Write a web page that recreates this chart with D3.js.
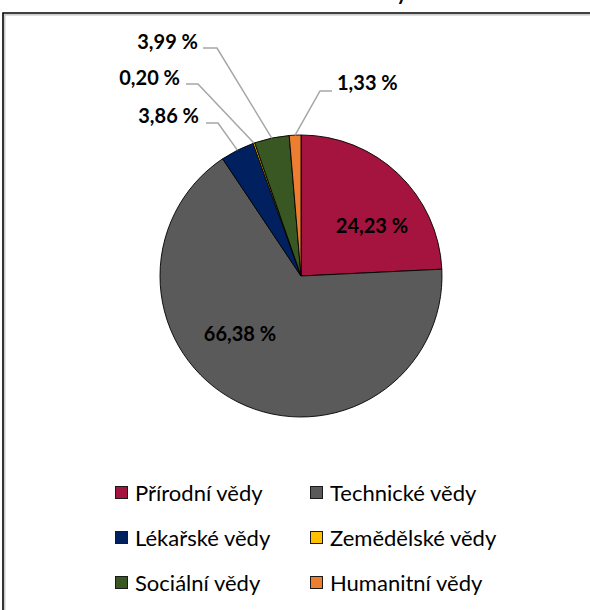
<!DOCTYPE html>
<html>
<head>
<meta charset="utf-8">
<script src="https://cdn.jsdelivr.net/npm/d3@7"></script>
<style>
  html, body { margin: 0; padding: 0; background: #fff; overflow: hidden; }
  svg { display: block; overflow: hidden; }
</style>
</head>
<body>
<svg id="chart" width="590" height="610"></svg>
<script>
// ---- data ----
const categories = ["Přírodní vědy", "Technické vědy", "Lékařské vědy", "Zemědělské vědy", "Sociální vědy", "Humanitní vědy"];
const values = [24.23, 66.38, 3.86, 0.20, 3.99, 1.33];
const valueLabels = ["24,23 %", "66,38 %", "3,86 %", "0,20 %", "3,99 %", "1,33 %"];
const colors = ["#A5143F", "#5A5A5A", "#002060", "#FFC000", "#385723", "#ED7D31"];
const titleText = "vědy";

// ---- layout (not data) ----
const W = 590, H = 610;
const cx = 301, cy = 276, R = 141;
const fontFamily = "Lato, 'Open Sans', 'DejaVu Sans', sans-serif";
// label placement relative to pie centre
const labelLayout = [
  { inside: true, dx: 71, dy: -43 },
  { inside: true, dx: -61, dy: 65 },
  { inside: false, dx: -102, dy: -153, anchor: "end", line: [[-95, -153], [-83, -153]] },
  { inside: false, dx: -121, dy: -191, anchor: "end", line: [[-115, -192], [-103, -192]] },
  { inside: false, dx: -103, dy: -227, anchor: "end", line: [[-98, -228], [-84, -228]] },
  { inside: false, dx: 36, dy: -186, anchor: "start", line: [[31, -185], [19, -185]] }
];

const svg = d3.select("#chart");

// frame: only top and left edges are visible in the crop
svg.append("path").attr("d", `M4.8,${H} V14.8 H${W}`)
  .attr("fill", "none").attr("stroke", "#bdbdbd").attr("stroke-width", 1.2);
svg.append("path").attr("d", `M3,${H} V13 H${W}`)
  .attr("fill", "none").attr("stroke", "#000").attr("stroke-width", 1.6);

// title (cut off by the top edge, as in the reference)
svg.append("text").attr("x", 407).attr("y", 0).attr("text-anchor", "end")
  .attr("font-family", fontFamily).attr("font-weight", "bold").attr("font-size", 20)
  .attr("fill", "#000").text(titleText);

const color = d3.scaleOrdinal().domain(categories).range(colors);
const pie = d3.pie().sort(null).value(d => d.value);
const data = categories.map((c, i) => ({ name: c, value: values[i], label: valueLabels[i], i }));
const arcs = pie(data);
const arc = d3.arc().innerRadius(0).outerRadius(R);

const g = svg.append("g").attr("transform", `translate(${cx},${cy})`);

g.selectAll("path.slice").data(arcs).join("path")
  .attr("class", "slice")
  .attr("d", arc)
  .attr("fill", d => color(d.data.name))
  .attr("stroke", "#000")
  .attr("stroke-width", 0.9)
  .attr("stroke-linejoin", "round");

// leader lines
const edgeArc = d3.arc().innerRadius(R).outerRadius(R);
arcs.forEach((d, i) => {
  const L = labelLayout[i];
  if (L.inside) return;
  const end = edgeArc.centroid(d);
  g.append("polyline")
    .attr("points", [L.line[0], L.line[1], end].map(p => p.join(",")).join(" "))
    .attr("fill", "none").attr("stroke", "#A6A6A6").attr("stroke-width", 1.5);
});

// value labels
arcs.forEach((d, i) => {
  const L = labelLayout[i];
  g.append("text")
    .attr("x", L.dx).attr("y", L.dy)
    .attr("text-anchor", L.inside ? "middle" : L.anchor)
    .attr("font-family", fontFamily).attr("font-weight", "bold").attr("font-size", 20)
    .attr("fill", "#000")
    .text(d.data.label);
});

// legend
const legendCols = [115, 310];
const legendRows = [493, 538, 583];
const legend = svg.append("g");
categories.forEach((c, i) => {
  const x = legendCols[i % 2], y = legendRows[Math.floor(i / 2)];
  legend.append("rect").attr("x", x + 0.5).attr("y", y - 6.5).attr("width", 12).attr("height", 12)
    .attr("fill", color(c)).attr("stroke", "#1a1a1a").attr("stroke-width", 1);
  legend.append("text").attr("x", x + 20).attr("y", y).attr("dy", "0.35em")
    .attr("font-family", fontFamily).attr("font-size", 22).attr("fill", "#000").text(c);
});
</script>
</body>
</html>
